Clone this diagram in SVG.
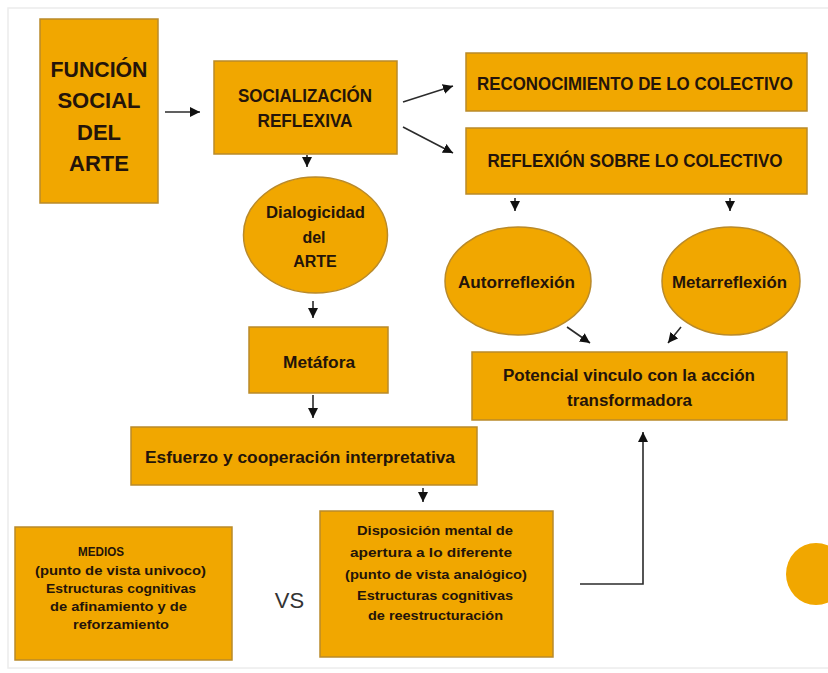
<svg xmlns="http://www.w3.org/2000/svg" width="828" height="673" viewBox="0 0 828 673">
<style>
.box{fill:#F1A700;stroke:#B98A2A;stroke-width:1.5}
.t{font-family:"Liberation Sans",Arial,sans-serif;font-weight:bold;fill:#24140a;text-anchor:middle}
.big{font-size:22px}
.cap{font-size:18px}
.m{font-size:16px}
.s{font-size:13px}
.con{stroke:#2b2b2b;stroke-width:1.6;fill:none;marker-end:url(#ah)}
</style>
<defs>
<marker id="ah" markerUnits="userSpaceOnUse" markerWidth="10" markerHeight="10" refX="10" refY="5" orient="auto" viewBox="0 0 10 10">
<path d="M0,0 L10,5 L0,10 z" fill="#111"/>
</marker>
</defs>
<rect x="0" y="0" width="828" height="673" fill="#fff"/>
<rect x="8" y="8" width="830" height="660" fill="none" stroke="#ececec" stroke-width="1.5"/>

<g id="funcion">
<rect class="box" x="40" y="19" width="118" height="184"/>
<text class="t big" x="99" y="77" textLength="97" lengthAdjust="spacingAndGlyphs">FUNCIÓN</text>
<text class="t big" x="99" y="108">SOCIAL</text>
<text class="t big" x="99" y="140">DEL</text>
<text class="t big" x="99" y="171">ARTE</text>
</g>

<g id="socializacion">
<rect class="box" x="214" y="61" width="183" height="93"/>
<text class="t cap" x="305" y="102" textLength="134" lengthAdjust="spacingAndGlyphs">SOCIALIZACIÓN</text>
<text class="t cap" x="305" y="127" textLength="95" lengthAdjust="spacingAndGlyphs">REFLEXIVA</text>
</g>

<g id="reconocimiento">
<rect class="box" x="466" y="53" width="341" height="58"/>
<text class="t cap" x="635" y="90" textLength="316" lengthAdjust="spacingAndGlyphs">RECONOCIMIENTO DE LO COLECTIVO</text>
</g>

<g id="reflexion">
<rect class="box" x="466" y="128" width="341" height="66"/>
<text class="t cap" x="635" y="167" textLength="295" lengthAdjust="spacingAndGlyphs">REFLEXIÓN SOBRE LO COLECTIVO</text>
</g>

<g id="dialogicidad">
<ellipse class="box" cx="315.5" cy="235" rx="72" ry="58"/>
<text class="t m" x="315.5" y="218" textLength="99" lengthAdjust="spacingAndGlyphs">Dialogicidad</text>
<text class="t m" x="314" y="243">del</text>
<text class="t m" x="315" y="267">ARTE</text>
</g>

<g id="autorreflexion">
<ellipse class="box" cx="518" cy="281" rx="73" ry="54"/>
<text class="t m" x="516.5" y="288" textLength="117" lengthAdjust="spacingAndGlyphs">Autorreflexión</text>
</g>

<g id="metarreflexion">
<ellipse class="box" cx="731" cy="281" rx="69" ry="54"/>
<text class="t m" x="729.5" y="288" textLength="115" lengthAdjust="spacingAndGlyphs">Metarreflexión</text>
</g>

<g id="metafora">
<rect class="box" x="249" y="327" width="139" height="66"/>
<text class="t m" x="319" y="368" textLength="72" lengthAdjust="spacingAndGlyphs">Metáfora</text>
</g>

<g id="potencial">
<rect class="box" x="472" y="352" width="315" height="68"/>
<text class="t m" x="629" y="381" textLength="252" lengthAdjust="spacingAndGlyphs">Potencial vinculo con la acción</text>
<text class="t m" x="629.5" y="406" textLength="125" lengthAdjust="spacingAndGlyphs">transformadora</text>
</g>

<g id="esfuerzo">
<rect class="box" x="131" y="427" width="346" height="58"/>
<text class="t m" x="300" y="463" textLength="310" lengthAdjust="spacingAndGlyphs">Esfuerzo y cooperación interpretativa</text>
</g>

<g id="medios">
<rect class="box" x="15" y="527" width="217" height="133"/>
<text class="t s" x="101" y="556" textLength="46" lengthAdjust="spacingAndGlyphs">MEDIOS</text>
<text class="t s" x="120.5" y="575" textLength="171" lengthAdjust="spacingAndGlyphs">(punto de vista univoco)</text>
<text class="t s" x="121" y="593" textLength="150" lengthAdjust="spacingAndGlyphs">Estructuras cognitivas</text>
<text class="t s" x="118.5" y="611" textLength="137" lengthAdjust="spacingAndGlyphs">de afinamiento y de</text>
<text class="t s" x="121" y="629" textLength="96" lengthAdjust="spacingAndGlyphs">reforzamiento</text>
</g>

<g id="vs">
<text x="289.5" y="608" font-family="Liberation Sans,Arial,sans-serif" font-size="22" fill="#333" text-anchor="middle">VS</text>
</g>

<g id="disposicion">
<rect class="box" x="320" y="511" width="233" height="146"/>
<text class="t s" x="435" y="535" textLength="156" lengthAdjust="spacingAndGlyphs">Disposición mental de</text>
<text class="t s" x="431" y="557" textLength="162" lengthAdjust="spacingAndGlyphs">apertura a lo diferente</text>
<text class="t s" x="436" y="579" textLength="182" lengthAdjust="spacingAndGlyphs">(punto de vista analógico)</text>
<text class="t s" x="435" y="600" textLength="156" lengthAdjust="spacingAndGlyphs">Estructuras cognitivas</text>
<text class="t s" x="435.5" y="620" textLength="135" lengthAdjust="spacingAndGlyphs">de reestructuración</text>
</g>

<g id="circle">
<ellipse cx="816" cy="574" rx="30" ry="31" fill="#F1A700"/>
</g>

<g id="connectors">
<line class="con" x1="165" y1="112" x2="200" y2="112"/>
<line class="con" x1="403" y1="102" x2="453" y2="86"/>
<line class="con" x1="403" y1="127" x2="453" y2="153"/>
<line class="con" x1="307" y1="155" x2="307" y2="167"/>
<line class="con" x1="313" y1="301" x2="313" y2="318"/>
<line class="con" x1="313" y1="395" x2="313" y2="418"/>
<line class="con" x1="423" y1="488" x2="423" y2="502"/>
<line class="con" x1="515" y1="198" x2="515" y2="211"/>
<line class="con" x1="730" y1="198" x2="730" y2="211"/>
<line class="con" x1="567" y1="327" x2="590" y2="343"/>
<line class="con" x1="681" y1="327" x2="668" y2="343"/>
<path class="con" d="M580,584 H643 V432"/>
</g>
</svg>
